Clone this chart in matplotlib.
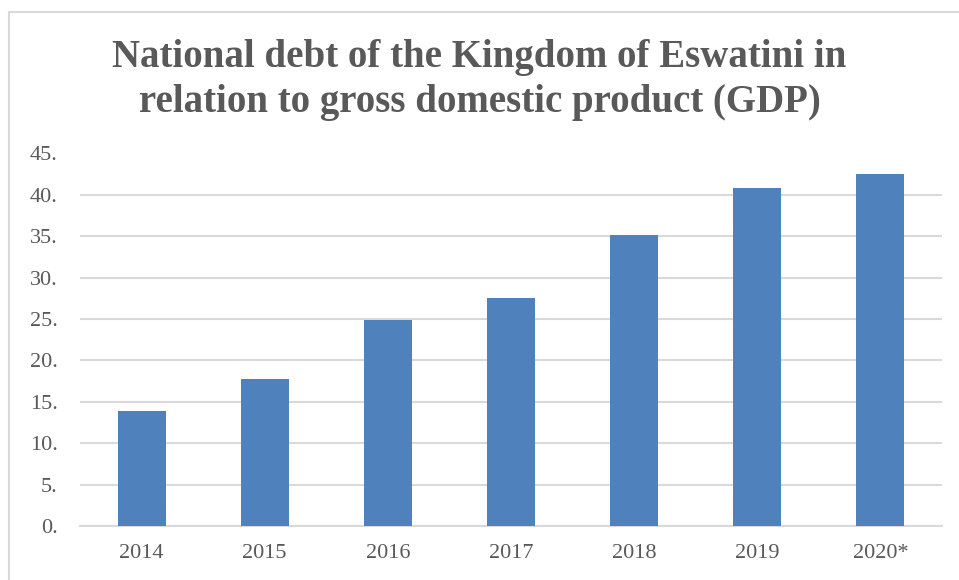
import matplotlib.pyplot as plt
from matplotlib.patches import Rectangle

years = ["2014", "2015", "2016", "2017", "2018", "2019", "2020*"]
debt_pct_gdp = [13.9, 17.8, 24.9, 27.5, 35.2, 40.8, 42.5]
y_ticks = list(range(0, 50, 5))

bar_color = "#4f81bd"
text_color = "#595959"
grid_color = "#d9d9d9"

fig = plt.figure(figsize=(9.59, 5.80), dpi=100)
ax = fig.add_axes([80 / 959, 1 - 526 / 580, 862 / 959, (526 - 153.5) / 580])

x = range(len(years))
ax.bar(x, debt_pct_gdp, width=0.39, color=bar_color, zorder=3)

ax.set_xlim(-0.5, len(years) - 0.5)
ax.set_ylim(0, 45)
ax.set_yticks(y_ticks)
ax.set_yticklabels([f"{v}." for v in y_ticks])
ax.set_xticks(list(x))
ax.set_xticklabels(years)

for lbl in ax.get_xticklabels() + ax.get_yticklabels():
    lbl.set_fontfamily("Liberation Serif")
    lbl.set_fontsize(16)
    lbl.set_color(text_color)

ax.tick_params(axis="both", length=0)
ax.tick_params(axis="y", pad=16)
ax.tick_params(axis="x", pad=13)
ax.grid(axis="y", color=grid_color, linewidth=1.5, zorder=0)
for side in ["top", "right", "left"]:
    ax.spines[side].set_visible(False)
ax.spines["bottom"].set_color(grid_color)
ax.spines["bottom"].set_linewidth(1.5)

fig.text(0.5, 1 - 80 / 580,
         "National debt of the Kingdom of Eswatini in\nrelation to gross domestic product (GDP)",
         ha="center", va="center", fontsize=28, fontweight="bold",
         family="Liberation Serif", color=text_color, linespacing=1.25)

# outer chart frame
fig.add_artist(Rectangle((9 / 959, -0.05), 2, 1 - 12 / 580 + 0.05,
                         transform=fig.transFigure, fill=False,
                         edgecolor=grid_color, linewidth=1.5))

fig.savefig("out.png", dpi=100)
